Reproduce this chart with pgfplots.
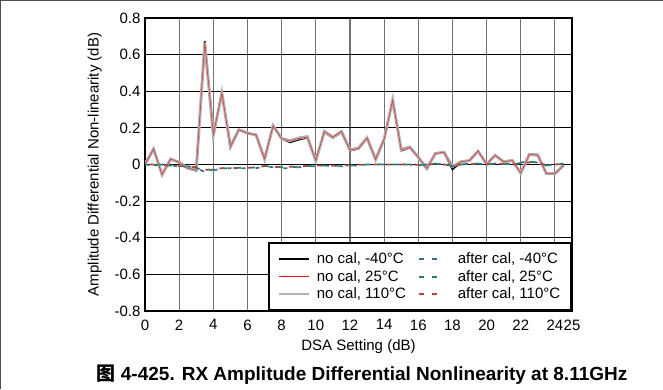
\documentclass[border=0pt]{standalone}
\usepackage{fontspec}
\setmainfont{Liberation Sans}
\newfontfamily\cjk{Noto Sans CJK SC}
\usepackage{pgfplots}
\usepackage{pgfplotstable}
\pgfplotsset{compat=1.18}
\definecolor{acblue}{RGB}{55,115,145}
\definecolor{acgreen}{RGB}{45,130,85}
\definecolor{acred}{RGB}{175,70,70}
\definecolor{ncgray}{RGB}{178,178,178}
\definecolor{ncred}{RGB}{235,20,20}

\pgfplotstableread{
x    nc40    nc25    nc110   ac40    ac25    ac110
0.0  0.000   0.000   0.000   0.000   0.000   0.000
0.5  0.085   0.085   0.085  -0.005  -0.003   0.000
1.0 -0.055  -0.055  -0.055   0.000  -0.005  -0.003
1.5  0.030   0.030   0.030  -0.005  -0.005  -0.005
2.0  0.010   0.012   0.012  -0.010  -0.008  -0.008
2.5 -0.022  -0.020  -0.020  -0.010  -0.012  -0.010
3.0 -0.035  -0.030  -0.030  -0.020  -0.018  -0.015
3.5  0.675   0.665   0.665  -0.040  -0.035  -0.030
4.0  0.160   0.165   0.160  -0.030  -0.028  -0.025
4.5  0.390   0.390   0.390  -0.025  -0.020  -0.020
5.0  0.090   0.100   0.100  -0.020  -0.020  -0.018
5.5  0.190   0.190   0.190  -0.020  -0.018  -0.020
6.0  0.170   0.170   0.172  -0.020  -0.020  -0.018
6.5  0.160   0.162   0.162  -0.020  -0.015  -0.015
7.0  0.030   0.032   0.030  -0.010  -0.008  -0.008
7.5  0.210   0.210   0.212  -0.015  -0.012  -0.012
8.0  0.140   0.142   0.142  -0.020  -0.015  -0.015
8.5  0.120   0.128   0.130  -0.020  -0.015  -0.012
9.0  0.135   0.142   0.145  -0.015  -0.012  -0.010
9.5  0.145   0.150   0.152  -0.010  -0.008  -0.008
10.0 0.030   0.022   0.020  -0.010  -0.008  -0.006
10.5 0.175   0.180   0.180  -0.005  -0.005  -0.005
11.0 0.145   0.150   0.150  -0.010  -0.008  -0.006
11.5 0.175   0.180   0.180  -0.010  -0.006  -0.005
12.0 0.075   0.080   0.080  -0.005  -0.005  -0.003
12.5 0.085   0.088   0.090  -0.005  -0.003  -0.002
13.0 0.140   0.145   0.145   0.000   0.000   0.000
13.5 0.025   0.028   0.028   0.000   0.000   0.000
14.0 0.135   0.138   0.138   0.000   0.002   0.000
14.5 0.350   0.352   0.352   0.000   0.000   0.000
15.0 0.075   0.080   0.082   0.000   0.000   0.000
15.5 0.090   0.095   0.095   0.000   0.000   0.002
16.0 0.040   0.040   0.040  -0.005  -0.003  -0.002
16.5 -0.025 -0.022  -0.022   0.000   0.000   0.000
17.0 0.060   0.060   0.060   0.005   0.005   0.003
17.5 0.065   0.067   0.067   0.000   0.002   0.000
18.0 -0.028 -0.015  -0.010  -0.010  -0.008  -0.006
18.5 0.012   0.015   0.015   0.000   0.000   0.000
19.0 0.020   0.022   0.022   0.005   0.003   0.002
19.5 0.075   0.075   0.072   0.005   0.005   0.003
20.0 0.000   0.002   0.002   0.000   0.000   0.000
20.5 0.050   0.050   0.050   0.005   0.005   0.005
21.0 0.013   0.015   0.015   0.005   0.003   0.003
21.5 0.020   0.022   0.022   0.000   0.000   0.000
22.0 -0.045 -0.047  -0.047   0.010   0.008   0.005
22.5 0.058   0.055   0.055   0.020   0.015   0.012
23.0 0.055   0.050   0.050   0.010   0.010   0.008
23.5 -0.050 -0.050  -0.050  -0.005  -0.005  -0.003
24.0 -0.050 -0.050  -0.050   0.000   0.000   0.000
24.5 -0.005 -0.005  -0.005   0.005   0.003   0.003
}\data

\begin{document}
\begin{tikzpicture}
\path[use as bounding box] (0pt,0pt) rectangle (663pt,389pt);
\draw[black!70, line width=1.2pt] (0.6pt,0pt) -- (0.6pt,388.4pt) -- (663pt,388.4pt);
\begin{axis}[
  at={(145pt,78pt)}, anchor=south west,
  scale only axis, width=427pt, height=293pt,
  xmin=0, xmax=25, ymin=-0.8, ymax=0.8,
  xtick={0,2,4,6,8,10,12,14,16,18,20,22,24,25},
  xticklabels={0,2,4,6,8,10,12,14,16,18,20,22,24,25},
  ytick={-0.8,-0.6,-0.4,-0.2,0,0.2,0.4,0.6,0.8},
  yticklabels={-0.8,-0.6,-0.4,-0.2,0,0.2,0.4,0.6,0.8},
  major tick length=0pt,
  xticklabel style={font=\fontsize{15}{17}\selectfont, yshift=-5pt},
  yticklabel style={font=\fontsize{15}{17}\selectfont, xshift=-1pt},
  label style={font=\fontsize{15}{17}\selectfont},
  xlabel={DSA Setting (dB)},
  ylabel={Amplitude Differential Non-linearity (dB)},
  xlabel style={yshift=-3pt},
  ylabel style={yshift=6pt},
  grid=major,
  x grid style={black!55, line width=1.1pt},
  y grid style={black, line width=0.9pt},
  axis line style={line width=1.8pt},
  legend columns=2,
  legend cell align=left,
  legend style={at={(1,0)}, anchor=south east, draw=black, line width=1.6pt,
    font=\fontsize{15}{17}\selectfont, inner xsep=9pt, inner ysep=8pt,
    row sep=1pt, /tikz/every even column/.append style={column sep=10pt}},
]
\addplot[black, line width=1.4pt, forget plot] table[x=x,y=nc40] {\data};
\addplot[ncgray, line width=3pt, forget plot] table[x=x,y=nc110] {\data};
\addplot[ncred, line width=0.6pt, opacity=0.75, forget plot] table[x=x,y=nc25] {\data};
\addplot[acblue, line width=1.8pt, dash pattern=on 4pt off 10pt, forget plot] table[x=x,y=ac40] {\data};
\addplot[acgreen, line width=1.8pt, dash pattern=on 4pt off 10pt, dash phase=5pt, forget plot] table[x=x,y=ac25] {\data};
\addplot[acred, line width=1.8pt, dash pattern=on 4pt off 10pt, dash phase=9pt, forget plot] table[x=x,y=ac110] {\data};

\addlegendimage{legend image code/.code={\draw[black, line width=1.6pt, solid] (0pt,0pt) -- (30pt,0pt);}}
\addlegendentry{\hspace{5pt}no cal, -40°C}
\addlegendimage{legend image code/.code={\draw[acblue, line width=1.8pt, dash pattern=on 5pt off 8pt] (0pt,0pt) -- (20pt,0pt);}}
\addlegendentry{\hspace{16pt}after cal, -40°C}
\addlegendimage{legend image code/.code={\draw[ncred, line width=1.6pt, solid] (0pt,0pt) -- (30pt,0pt);}}
\addlegendentry{\hspace{5pt}no cal, 25°C}
\addlegendimage{legend image code/.code={\draw[acgreen, line width=1.8pt, dash pattern=on 5pt off 8pt] (0pt,0pt) -- (20pt,0pt);}}
\addlegendentry{\hspace{16pt}after cal, 25°C}
\addlegendimage{legend image code/.code={\draw[ncgray, line width=1.6pt, solid] (0pt,0pt) -- (30pt,0pt);}}
\addlegendentry{\hspace{5pt}no cal, 110°C}
\addlegendimage{legend image code/.code={\draw[acred, line width=1.8pt, dash pattern=on 5pt off 8pt] (0pt,0pt) -- (20pt,0pt);}}
\addlegendentry{\hspace{16pt}after cal, 110°C}
\end{axis}
\node[font=\fontsize{19}{22}\selectfont\bfseries] at (362pt,14pt) {{\cjk 图} 4-425. RX Amplitude Differential Nonlinearity at 8.11GHz};
\end{tikzpicture}
\end{document}
